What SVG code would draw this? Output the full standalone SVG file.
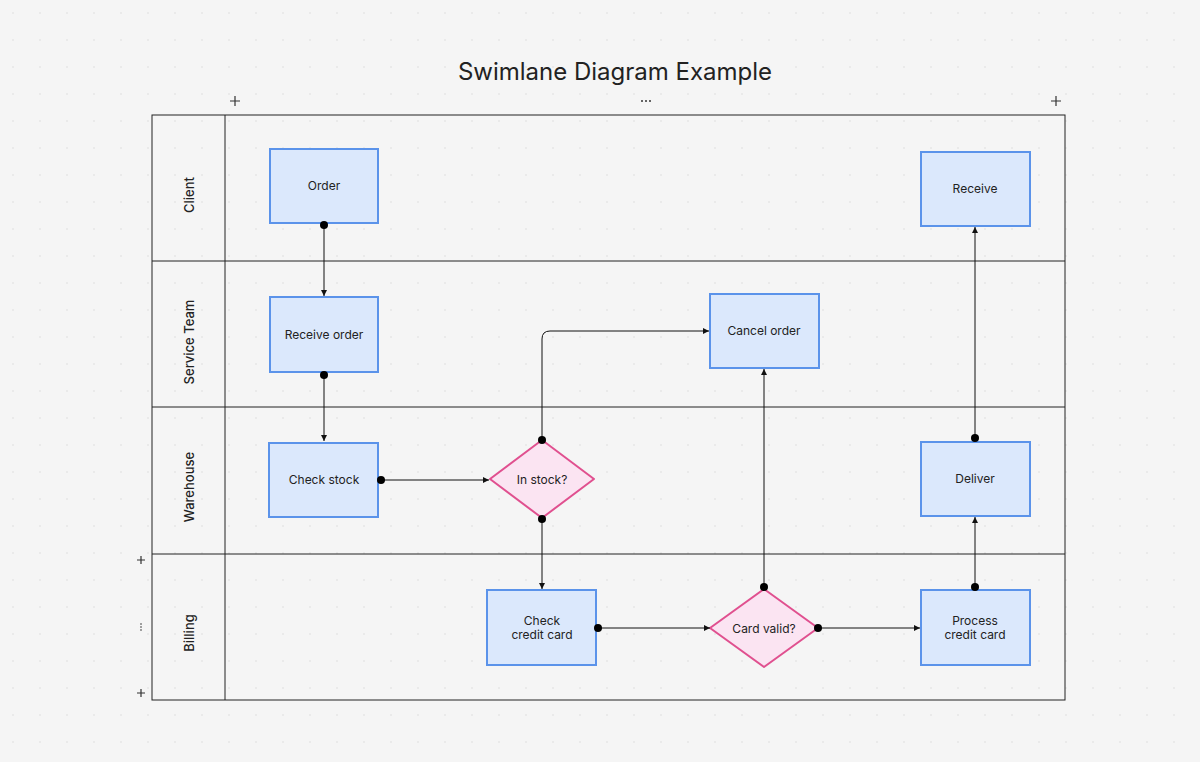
<svg xmlns="http://www.w3.org/2000/svg" width="1200" height="762" viewBox="0 0 1200 762">
<defs>
<pattern id="dots" width="27" height="27" patternUnits="userSpaceOnUse"><circle cx="13" cy="13" r="0.8" fill="#dcdcdc"/></pattern>
<marker id="arr" viewBox="0 0 6 6" refX="6" refY="3" markerWidth="6" markerHeight="6" orient="auto" markerUnits="userSpaceOnUse"><path d="M0,0 L6,3 L0,6 Z" fill="#111"/></marker>
<marker id="dot" viewBox="0 0 8 8" refX="4" refY="4" markerWidth="8" markerHeight="8" markerUnits="userSpaceOnUse"><circle cx="4" cy="4" r="4" fill="#000"/></marker>
</defs>
<style>
text{font-family:Inter,"Liberation Sans",sans-serif;fill:#222}
.lbl{font-size:12px;text-anchor:middle}
.lane{font-size:13px;text-anchor:middle;font-weight:500}
.box{fill:#dbe8fc;stroke:#5b93ea;stroke-width:2}
.dia{fill:#fbe4f2;stroke:#e0508f;stroke-width:2}
.ln{stroke:#222;stroke-width:1;fill:none}
.c{stroke:#111;stroke-width:1;fill:none;marker-start:url(#dot);marker-end:url(#arr)}
.ui{stroke:#333;stroke-width:1.2}
</style>
<rect width="1200" height="762" fill="#f5f5f5"/>
<rect width="1200" height="762" fill="url(#dots)"/>
<text x="615" y="80" font-size="24" text-anchor="middle">Swimlane Diagram Example</text>
<g id="controls">
<path class="ui" d="M230,101h10M235,96v10M1051,101h10M1056,96v10M137,560h8M141,556v8M137,693h8M141,689v8"/>
<circle cx="642" cy="101" r="1" fill="#333"/><circle cx="646" cy="101" r="1" fill="#333"/><circle cx="650" cy="101" r="1" fill="#333"/>
<circle cx="141" cy="624" r="0.8" fill="#333"/><circle cx="141" cy="627" r="0.8" fill="#333"/><circle cx="141" cy="630" r="0.8" fill="#333"/>
</g>
<g id="lanes">
<rect x="152" y="115" width="913" height="585" class="ln"/>
<path class="ln" d="M225,115V700M152,261H1065M152,407H1065M152,554H1065"/>
<text class="lane" transform="translate(194,195) rotate(-90)">Client</text>
<text class="lane" transform="translate(194,342) rotate(-90)">Service Team</text>
<text class="lane" transform="translate(194,487) rotate(-90)">Warehouse</text>
<text class="lane" transform="translate(194,633) rotate(-90)">Billing</text>
</g>
<g id="order"><rect class="box" x="270" y="149" width="108" height="74"/><text class="lbl" x="324" y="190">Order</text></g>
<g id="receive"><rect class="box" x="921" y="152" width="109" height="74"/><text class="lbl" x="975" y="193">Receive</text></g>
<g id="receive-order"><rect class="box" x="270" y="297" width="108" height="75"/><text class="lbl" x="324" y="339">Receive order</text></g>
<g id="cancel-order"><rect class="box" x="710" y="294" width="109" height="74"/><text class="lbl" x="764" y="335">Cancel order</text></g>
<g id="check-stock"><rect class="box" x="269" y="443" width="109" height="74"/><text class="lbl" x="324" y="484">Check stock</text></g>
<g id="deliver"><rect class="box" x="921" y="442" width="109" height="74"/><text class="lbl" x="975" y="483">Deliver</text></g>
<g id="check-credit"><rect class="box" x="487" y="590" width="109" height="75"/><text class="lbl" x="542" y="625">Check</text><text class="lbl" x="542" y="639">credit card</text></g>
<g id="process"><rect class="box" x="921" y="590" width="109" height="75"/><text class="lbl" x="975" y="625">Process</text><text class="lbl" x="975" y="639">credit card</text></g>
<g id="in-stock"><path class="dia" d="M542,440L594,479L542,518L490,479Z" stroke-linejoin="round"/><text class="lbl" x="542" y="484">In stock?</text></g>
<g id="card-valid"><path class="dia" d="M764,589L818,628L764,667L710,628Z" stroke-linejoin="round"/><text class="lbl" x="764" y="633">Card valid?</text></g>
<g id="connectors">
<path class="c" d="M324,225V296"/>
<path class="c" d="M324,375V441"/>
<path class="c" d="M381,480H489"/>
<path class="c" d="M542,440V339Q542,331 550,331H709"/>
<path class="c" d="M542,519V589"/>
<path class="c" d="M598,628H710"/>
<path class="c" d="M764,587V369"/>
<path class="c" d="M818,628H920"/>
<path class="c" d="M975,587V517"/>
<path class="c" d="M975,438V227"/>
</g>
</svg>
